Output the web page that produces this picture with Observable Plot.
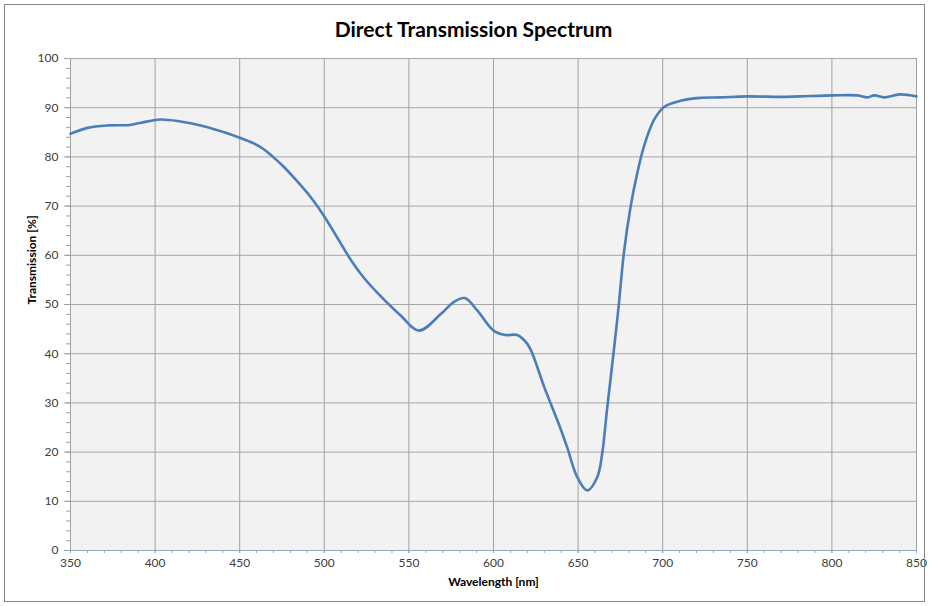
<!DOCTYPE html>
<html>
<head>
<meta charset="utf-8">
<script src="https://cdn.jsdelivr.net/npm/d3@7"></script>
<script src="https://cdn.jsdelivr.net/npm/@observablehq/plot@0.6"></script>
<style>
  html, body { margin: 0; padding: 0; background: #fff; }
  #wrap { position: relative; width: 929px; height: 606px; }
  #border { position: absolute; left: 4px; top: 4px; width: 921px; height: 598px; border: 1px solid #868686; box-sizing: border-box; pointer-events: none; }
  svg { display: block; }
</style>
</head>
<body>
<div id="wrap"><div id="border"></div></div>
<script>
const titleText = "Direct Transmission Spectrum";
const xLabel = "Wavelength [nm]";
const yLabel = "Transmission [%]";

const wavelength = [350,360,372,385,391,403,415,427,439,450,458,464,470,476,482,492,500,508,516,523,533,545,556,569,576.5,583,590.4,600,607,614,620,623,630,638.6,643.5,649.5,655.4,661.3,664.2,667.1,671.1,674.1,677,681,684.9,688.8,694.7,700.6,710.5,722,734,750,770,781,801,815,821,825,831,840,850];
const transmission = [84.7,85.9,86.4,86.5,86.9,87.6,87.2,86.4,85.2,83.9,82.8,81.6,79.9,78.0,75.8,71.8,67.9,63.4,58.9,55.6,51.8,47.8,44.7,48.1,50.5,51.3,48.8,44.7,43.8,43.8,42.0,40.0,33.2,25.7,21.0,14.9,12.2,14.9,19.6,28.7,40.6,50.1,60.3,69.8,76.6,82.0,87.4,90.1,91.4,92.0,92.1,92.3,92.2,92.3,92.5,92.5,92.1,92.5,92.1,92.7,92.3];

const xTicks = [350,400,450,500,550,600,650,700,750,800,850];
const yTicks = [0,10,20,30,40,50,60,70,80,90,100];
const xMinor = d3.range(350, 851, 10);
const yMinor = d3.range(0, 101, 2);

const data = wavelength.map((w, i) => ({w, t: transmission[i]}));
const font = "Lato, 'Open Sans', sans-serif";
const blank = () => "";

const chart = Plot.plot({
  width: 929,
  height: 606,
  marginLeft: 70,
  marginRight: 13,
  marginTop: 58,
  marginBottom: 56,
  style: {fontFamily: font, fontSize: "12px", color: "#404040", background: "transparent"},
  x: {type: "linear", domain: [350, 850]},
  y: {type: "linear", domain: [0, 100]},
  marks: [
    Plot.frame({fill: "#f2f2f2", stroke: null}),
    Plot.gridX(xTicks, {stroke: "#a0a0a0", strokeOpacity: 1}),
    Plot.gridY(yTicks, {stroke: "#a6a6a6", strokeOpacity: 1}),
    Plot.ruleX([350], {stroke: "#a0a0a0"}),
    Plot.ruleX([850], {stroke: "#a0a0a0"}),
    Plot.axisY(yMinor, {tickSize: 4, tickFormat: blank, label: null, stroke: "#a0a0a0"}),
    Plot.axisY(yTicks, {tickSize: 6, tickPadding: 6, label: null, stroke: "#a0a0a0", fill: "#404040", fontSize: 12}),
    Plot.axisX(xMinor, {tickSize: 3, tickFormat: blank, label: null, stroke: "#8aa9cc"}),
    Plot.axisX(xTicks, {tickSize: 3, tickPadding: 5, label: null, stroke: "#8aa9cc", fill: "#404040", fontSize: 12}),
    Plot.ruleY([0], {stroke: "#8aa9cc"}),
    Plot.line(data, {x: "w", y: "t", curve: "catmull-rom", stroke: "#4a7ebb", strokeWidth: 2.6}),
    Plot.text([titleText], {frameAnchor: "top", dx: -20, dy: -36, fontSize: 21, fontWeight: "bold", fill: "#000"}),
    Plot.text([xLabel], {frameAnchor: "bottom", dy: 35, fontSize: 12, fontWeight: "bold", fill: "#000"}),
    Plot.text([yLabel], {frameAnchor: "left", dx: -38, rotate: -90, fontSize: 12, fontWeight: "bold", fill: "#000"})
  ]
});
document.getElementById("wrap").appendChild(chart);
</script>
</body>
</html>
